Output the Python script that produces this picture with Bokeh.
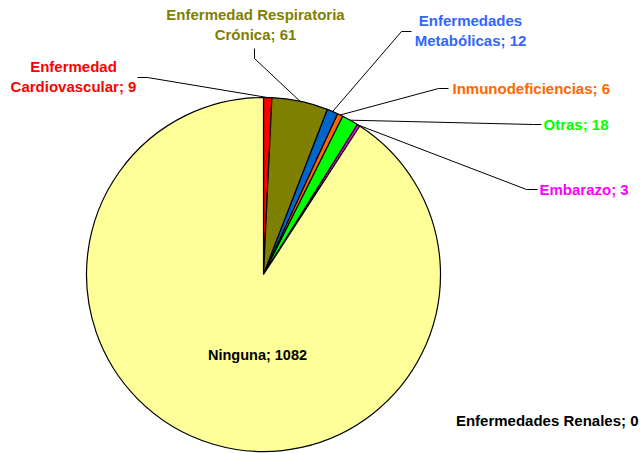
import math
from bokeh.plotting import figure
from bokeh.models import Range1d, ColumnDataSource
from bokeh.core.properties import value
from bokeh.embed import file_html
from bokeh.resources import INLINE

# ---- data ----
categories = ["Enfermedad Cardiovascular", "Enfermedad Respiratoria Crónica",
              "Enfermedades Metabólicas", "Inmunodeficiencias", "Otras",
              "Embarazo", "Enfermedades Renales", "Ninguna"]
counts = [9, 61, 12, 6, 18, 3, 0, 1082]
slice_colors = ["#FF0000", "#808000", "#0066CC", "#FF6600", "#00FF00",
                "#FF00FF", "#993366", "#FFFF99"]
label_colors = ["#FF0000", "#808000", "#3366FF", "#FF6600", "#00FF00",
                "#FF00FF", "#000000", "#000000"]
# number of words on the first label line (None = single line)
first_line_words = [1, 2, 1, None, None, None, None, None]

# ---- layout (reference pixel coords, y downward) ----
W, H = 640, 453
CX, CY, R = 263, 274, 177
label_pos = [(73, 76, "center"), (255, 24, "center"), (470, 30, "center"),
             (452, 88, "left"), (543, 124, "left"), (539, 189, "left"),
             (638, 420, "right"), (257, 354, "center")]
label_sizes = ["15px"] * 7 + ["14.5px"]
# leader elbow: (outer point, inner point); None = no leader
leaders = [((137, 77), (147, 77)), ((254, 48), (254, 58)), ((411, 31), (401, 31)),
           ((448, 88), (438, 88)), ((541, 124), (533, 124)), ((537, 189), (526, 189)),
           None, None]

def fy(y):
    return H - y

p = figure(width=W, height=H, output_backend="svg", toolbar_location=None,
           x_range=Range1d(0, W), y_range=Range1d(0, H), min_border=0)
p.axis.visible = False
p.grid.visible = False
p.outline_line_color = None
p.background_fill_color = "white"

total = sum(counts)
starts, ends, mids = [], [], []
cum = 0.0
for c in counts:
    a0 = math.pi / 2 - 2 * math.pi * cum / total
    cum += c
    a1 = math.pi / 2 - 2 * math.pi * cum / total
    starts.append(a0)
    ends.append(a1)
    mids.append((a0 + a1) / 2)

keep = [i for i, c in enumerate(counts) if c > 0]
src = ColumnDataSource(dict(start=[starts[i] for i in keep],
                            end=[ends[i] for i in keep],
                            color=[slice_colors[i] for i in keep]))
p.wedge(x=CX, y=fy(CY), radius=R, start_angle="start", end_angle="end",
        direction="clock", fill_color="color", line_color="black",
        line_width=1.2, source=src)

# leader lines
xs, ys = [], []
for i, ld in enumerate(leaders):
    if ld is None:
        continue
    (ox, oy), (ix, iy) = ld
    px = CX + R * math.cos(mids[i])
    py = fy(CY) + R * math.sin(mids[i])
    xs.append([ox, ix, px])
    ys.append([fy(oy), fy(iy), py])
p.multi_line(xs=xs, ys=ys, line_color="black", line_width=1)

# labels
for i, cat in enumerate(categories):
    words = cat.split(" ")
    n = first_line_words[i]
    if n:
        txt = " ".join(words[:n]) + "\n" + " ".join(words[n:]) + "; " + str(counts[i])
    else:
        txt = cat + "; " + str(counts[i])
    x, y, al = label_pos[i]
    p.text(x=[x], y=[fy(y)], text=[txt], text_align=al, text_baseline="middle",
           text_color=label_colors[i], text_font=value("Liberation Sans"),
           text_font_style="bold", text_font_size=label_sizes[i],
           text_line_height=1.18)

open("out.html", "w").write(file_html(p, INLINE))
